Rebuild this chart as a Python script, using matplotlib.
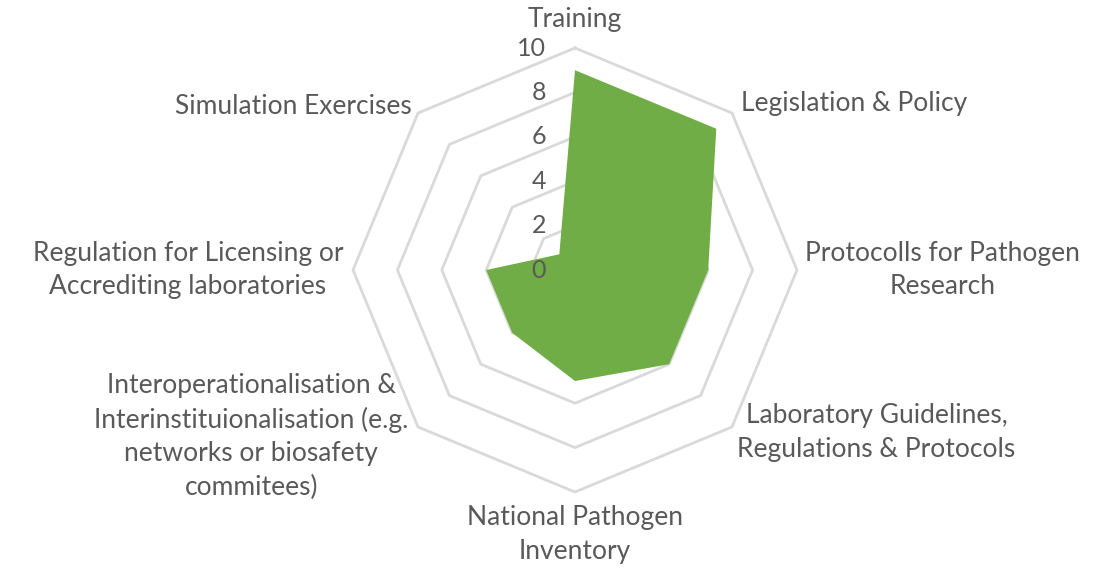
import numpy as np
import matplotlib
matplotlib.use("Agg")
import matplotlib.pyplot as plt
from matplotlib.transforms import offset_copy

categories = [
    "Training",
    "Legislation & Policy",
    "Protocolls for Pathogen\nResearch",
    "Laboratory Guidelines,\nRegulations & Protocols",
    "National Pathogen\nInventory",
    "Interoperationalisation &\nInterinstituionalisation (e.g.\nnetworks or biosafety\ncommitees)",
    "Regulation for Licensing or\nAccrediting laboratories",
    "Simulation Exercises",
]
values = [9, 9, 6, 6, 5, 4, 4, 1]
levels = [0, 2, 4, 6, 8, 10]

# label placement: radius, ha, va
label_pos = [
    (11.3, "center", "center"),
    (10.6, "left", "center"),
    (10.35, "left", "center"),
    (10.35, "left", "center"),
    (10.6, "center", "top"),
    (10.6, "right", "center"),
    (10.45, "right", "center"),
    (10.4, "right", "center"),
]

plt.rcParams["font.family"] = ["Lato", "DejaVu Sans"]
text_col = "#595959"
grid_col = "#D9D9D9"
fill_col = "#70AD47"

W, H = 1117, 570
fig = plt.figure(figsize=(W / 100, H / 100), dpi=100)
cx, cy, R = 575, 270, 222
ax = fig.add_axes([(cx - R) / W, 1 - (cy + R) / H, 2 * R / W, 2 * R / H], projection="polar")
ax.set_theta_zero_location("N")
ax.set_theta_direction(-1)
ax.set_ylim(0, 10)
ax.set_axis_off()

n = len(categories)
theta = np.linspace(0, 2 * np.pi, n, endpoint=False)
theta_c = np.append(theta, theta[0])

# octagon grid
for lv in levels[1:]:
    ax.plot(theta_c, [lv] * (n + 1), color=grid_col, lw=2, zorder=1, clip_on=False)

vals = np.append(values, values[0])
ax.fill(theta_c, vals, color=fill_col, zorder=2, lw=0)

# tick labels
tr = offset_copy(ax.transData, fig=fig, x=-29, y=0, units="dots")
for lv in levels:
    ax.text(0, lv, str(lv), transform=tr, ha="right", va="center",
            fontsize=18, color=text_col, zorder=3)

for t, lab, (r, ha, va) in zip(theta, categories, label_pos):
    ax.text(t, r, lab, ha=ha, va=va, multialignment="center",
            fontsize=19, color=text_col, linespacing=1.42, clip_on=False)

fig.savefig("out.png", dpi=100, facecolor="white")
